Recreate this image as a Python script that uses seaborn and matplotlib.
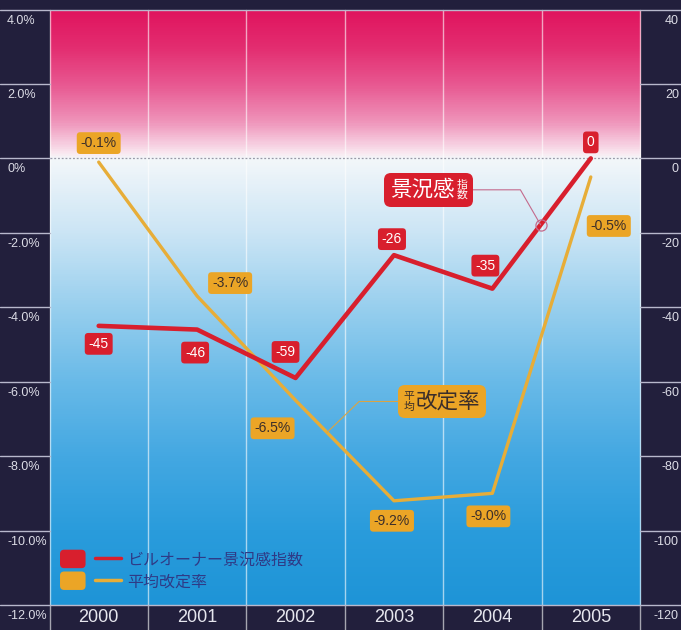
import numpy as np
import pandas as pd
import matplotlib
matplotlib.use("Agg")
import matplotlib.pyplot as plt
import seaborn as sns
from matplotlib import font_manager
from matplotlib.colors import LinearSegmentedColormap
from matplotlib.lines import Line2D
from matplotlib.patches import Patch, FancyBboxPatch
from matplotlib.legend_handler import HandlerTuple, HandlerPatch
from matplotlib.transforms import blended_transform_factory
from matplotlib.offsetbox import TextArea, HPacker, VPacker, AnnotationBbox

# ---- data -------------------------------------------------------------
years = ["2000", "2001", "2002", "2003", "2004", "2005"]
sentiment_index = [-45, -46, -59, -26, -35, 0]          # right scale
rent_revision = [-0.1, -3.7, -6.5, -9.2, -9.0, -0.5]    # left scale, %
pct_ticks = [4, 2, 0, -2, -4, -6, -8, -10, -12]
pct_tick_labels = ["4.0%", "2.0%", "0%", "-2.0%", "-4.0%", "-6.0%",
                   "-8.0%", "-10.0%", "-12.0%"]
index_tick_labels = ["40", "20", "0", "-20", "-40", "-60", "-80", "-100", "-120"]
series_names = ["ビルオーナー景況感指数", "平均改定率"]

# value-label placement (pixel offsets from each point)
sentiment_label_offsets = [(0, -18), (-2, -23), (-10, 26), (-2, 16), (-7, 23), (0, 16)]
revision_label_offsets = [(0, 19), (33, 13), (-23, -28), (-2, -20), (-4, -23), (18, -49)]

# ---- style ------------------------------------------------------------
NAVY = "#221f3c"
RED = "#d81f2d"
ORANGE_LINE = "#e7ad38"
ORANGE_BOX = "#eba526"
DARK_TEXT = "#3b2e2a"
GRID = "#b8b8cc"
LEGEND_TEXT = "#2f3a86"

sns.set_theme(style="white")
installed = {f.name for f in font_manager.fontManager.ttflist}
NUM_FONT = "Liberation Sans Narrow" if "Liberation Sans Narrow" in installed else "Liberation Sans"
JP_FONT = "Noto Sans CJK JP"
plt.rcParams["font.family"] = [NUM_FONT, JP_FONT, "DejaVu Sans"]

W, H = 681, 630
fig = plt.figure(figsize=(W / 100, H / 100), dpi=100, facecolor=NAVY)
ax = fig.add_axes([49.5 / W, 25 / H, 590.5 / W, 595.5 / H])
ax2 = ax.twinx()
for a in (ax, ax2):
    for s in a.spines.values():
        s.set_visible(False)

positions = np.arange(len(years))

# background gradient: magenta above zero, white at zero, blue below
stops = [(-12, (30, 148, 215)), (-10, (42, 156, 220)), (-8, (68, 168, 226)),
         (-6, (105, 186, 232)), (-4, (152, 207, 238)), (-2, (203, 229, 245)),
         (0, (243, 247, 250)), (0.15, (250, 232, 240)), (0.5, (245, 196, 218)),
         (1, (239, 148, 186)), (2, (232, 88, 145)), (3, (227, 45, 112)),
         (4, (224, 20, 94))]
cmap = LinearSegmentedColormap.from_list(
    "bg", [((v + 12) / 16, tuple(c / 255 for c in rgb)) for v, rgb in stops])
grad = np.linspace(-12, 4, 800)[:, None]
ax.imshow(grad, origin="lower", extent=(-0.5, len(years) - 0.5, -12, 4),
          cmap=cmap, vmin=-12, vmax=4, aspect="auto", zorder=0,
          interpolation="bilinear")

# category separators running down through the year band
vtrans = blended_transform_factory(ax.transData, ax.transAxes)
for b in np.arange(-0.5, len(years), 1.0):
    ax.plot([b, b], [-0.05, 1], transform=vtrans, clip_on=False,
            color="white", alpha=0.6, lw=1, zorder=1)

# zero reference line
ax.axhline(0, color="#9a9aa8", lw=0.9, ls=(0, (1.5, 1.5)), zorder=1)

# scale rules in the margins, with labels sitting just under each rule
htrans = blended_transform_factory(fig.transFigure, ax.transData)
x_left = 49.5 / W
x_right = 640 / W
for v, lab_l, lab_r in zip(pct_ticks, pct_tick_labels, index_tick_labels):
    if v in (4, -12):
        fig.add_artist(Line2D([0, 1], [v, v], transform=htrans, color=GRID, lw=1))
    else:
        fig.add_artist(Line2D([0, x_left], [v, v], transform=htrans, color=GRID, lw=1))
        fig.add_artist(Line2D([x_right, 1], [v, v], transform=htrans, color=GRID, lw=1))
    ax.annotate(lab_l, xy=(7 / W, v), xycoords=htrans, xytext=(0, -11),
                textcoords="offset pixels", ha="left", va="center",
                fontsize=9, color="#dcdce6", annotation_clip=False)
    ax.annotate(lab_r, xy=(679 / W, v), xycoords=htrans, xytext=(0, -11),
                textcoords="offset pixels", ha="right", va="center",
                fontsize=9, color="#dcdce6", annotation_clip=False)

# year labels in the dark band
ax.set_xticks(positions)
ax.set_xticklabels(years, fontsize=13, color="#e6e6ee", family=NUM_FONT)
ax.tick_params(axis="x", length=0, pad=3)
ax.set_yticks([])

# ---- lines ------------------------------------------------------------
df = pd.DataFrame({"pos": positions, "year": years,
                   "sentiment": sentiment_index, "revision": rent_revision})
sns.lineplot(data=df, x="pos", y="revision", ax=ax, color=ORANGE_LINE,
             lw=2.4, sort=False, legend=False, zorder=3)
sns.lineplot(data=df, x="pos", y="sentiment", ax=ax2, color=RED,
             lw=3.3, sort=False, legend=False, zorder=4)
for a in (ax, ax2):
    a.set_xlabel("")
    a.set_ylabel("")
ax2.set_yticks([])
ax.set_xlim(-0.5, len(years) - 0.5)
ax.set_ylim(-12, 4)
ax2.set_ylim(-120, 40)

# ---- value labels -----------------------------------------------------
for x, v, off in zip(positions, sentiment_index, sentiment_label_offsets):
    ax2.annotate(f"{v}", xy=(x, v), xytext=off, textcoords="offset pixels",
                 ha="center", va="center", fontsize=10, color="white", zorder=6,
                 bbox=dict(boxstyle="round,pad=0.28,rounding_size=0.25",
                           fc=RED, ec="none"))
for x, v, off in zip(positions, rent_revision, revision_label_offsets):
    ax2.annotate(f"{v:.1f}%", xy=(x, v * 10), xytext=off, textcoords="offset pixels",
                 ha="center", va="center", fontsize=10, color=DARK_TEXT, zorder=6,
                 bbox=dict(boxstyle="round,pad=0.28,rounding_size=0.25",
                           fc=ORANGE_BOX, ec="none"))


# ---- series callouts --------------------------------------------------
def callout(axis, big, small, small_first, xy, offset_pts, fc, tc, lc, angle_b):
    big_t = TextArea(big, textprops=dict(fontsize=15.5, color=tc, family=JP_FONT))
    small_t = VPacker(children=[TextArea(c, textprops=dict(fontsize=7.8, color=tc,
                                                           family=JP_FONT))
                                for c in small],
                      pad=0, sep=0, align="center")
    kids = [small_t, big_t] if small_first else [big_t, small_t]
    packed = HPacker(children=kids, pad=0, sep=1, align="center")
    ab = AnnotationBbox(packed, xy, xybox=offset_pts, xycoords="data",
                        boxcoords="offset points", frameon=True,
                        bboxprops=dict(boxstyle="round,pad=0.38,rounding_size=0.45",
                                       fc=fc, ec="none"),
                        arrowprops=dict(arrowstyle="-", color=lc, lw=0.8,
                                        connectionstyle=f"angle,angleA=0,angleB={angle_b},rad=0",
                                        shrinkA=0, shrinkB=0),
                        zorder=7)
    axis.add_artist(ab)


sent_at = 4.49
sent_y = np.interp(sent_at, positions, sentiment_index)
callout(ax2, "景況感", ["指", "数"], False, (sent_at, sent_y), (-80.6, 25.2),
        RED, "white", "#c46a8c", 120)
ax2.plot([sent_at], [sent_y], marker="o", ms=8, mfc="none", mec="#c46a8c",
         mew=0.9, zorder=8)

rev_at = 2.32
rev_y = np.interp(rev_at, positions, rent_revision)
callout(ax, "改定率", ["平", "均"], True, (rev_at, rev_y), (82.8, 22.3),
        ORANGE_BOX, DARK_TEXT, "#d9a444", 44)


# ---- legend -----------------------------------------------------------
def rounded_swatch(legend, orig_handle, xdescent, ydescent, width, height, fontsize):
    return FancyBboxPatch((-xdescent, -ydescent - 1.5), width, height + 3,
                          boxstyle="round,pad=0,rounding_size=3")


handles = [(Patch(fc=RED, ec="none"), Line2D([], [], color=RED, lw=2.5)),
           (Patch(fc=ORANGE_BOX, ec="none"), Line2D([], [], color=ORANGE_LINE, lw=2.5))]
leg = ax2.legend(handles, series_names,
                 handler_map={tuple: HandlerTuple(ndivide=None, pad=0.6),
                              Patch: HandlerPatch(patch_func=rounded_swatch)},
                 loc="upper left", bbox_to_anchor=(0.0178, 0.09),
                 frameon=False, borderpad=0, borderaxespad=0,
                 handlelength=3.8, handleheight=1.0, handletextpad=0.4,
                 labelspacing=0.3, prop=dict(family=JP_FONT, size=11.5),
                 labelcolor=LEGEND_TEXT)
leg.set_zorder(9)

fig.savefig("out.png", dpi=100, facecolor=NAVY)
